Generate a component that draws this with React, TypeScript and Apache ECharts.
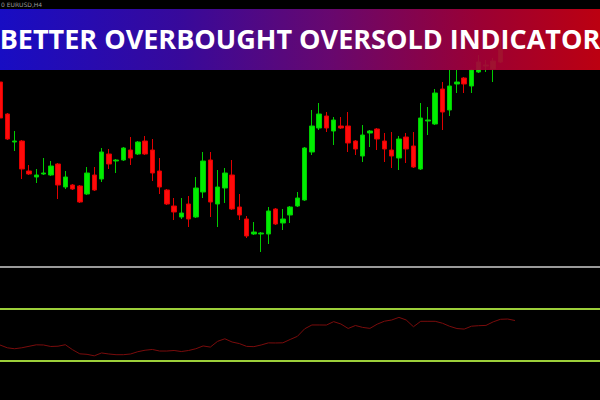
import React, { useEffect, useRef } from "react";
import * as echarts from "echarts";

// candle data: [open, close, low, high]
const candles: number[][] = [
  [1.1218, 1.1182, 1.1181, 1.1219],
  [1.1186, 1.1161, 1.116, 1.1187],
  [1.1158, 1.1159, 1.1149, 1.1169],
  [1.1159, 1.1131, 1.1121, 1.116],
  [1.1129, 1.1126, 1.1125, 1.1135],
  [1.1123, 1.1125, 1.1117, 1.1131],
  [1.1126, 1.1127, 1.1125, 1.1142],
  [1.1125, 1.1134, 1.1124, 1.1139],
  [1.1136, 1.1115, 1.1101, 1.1137],
  [1.1113, 1.1123, 1.1111, 1.1129],
  [1.1115, 1.1111, 1.111, 1.1116],
  [1.1114, 1.1098, 1.1097, 1.1115],
  [1.1106, 1.1127, 1.1105, 1.1133],
  [1.1125, 1.111, 1.1109, 1.1133],
  [1.1121, 1.1148, 1.1118, 1.1152],
  [1.1146, 1.1136, 1.1131, 1.1151],
  [1.1139, 1.114, 1.1127, 1.1141],
  [1.114, 1.1152, 1.1139, 1.1153],
  [1.115, 1.1142, 1.1135, 1.1163],
  [1.1146, 1.1158, 1.1145, 1.1159],
  [1.1159, 1.1146, 1.1145, 1.1164],
  [1.115, 1.1127, 1.1119, 1.1161],
  [1.1129, 1.1113, 1.1106, 1.1142],
  [1.111, 1.1096, 1.1095, 1.1111],
  [1.1094, 1.1088, 1.108, 1.1102],
  [1.1083, 1.1087, 1.1081, 1.1102],
  [1.1096, 1.1081, 1.1073, 1.1104],
  [1.1083, 1.1112, 1.1082, 1.1123],
  [1.1108, 1.1139, 1.1102, 1.1148],
  [1.114, 1.1098, 1.1083, 1.1148],
  [1.1096, 1.1113, 1.1073, 1.113],
  [1.1112, 1.1127, 1.1097, 1.1132],
  [1.1125, 1.1091, 1.109, 1.114],
  [1.1093, 1.1085, 1.108, 1.1106],
  [1.1081, 1.1064, 1.1062, 1.1084],
  [1.1066, 1.1068, 1.1065, 1.1078],
  [1.1066, 1.1067, 1.1048, 1.1068],
  [1.1066, 1.1089, 1.1056, 1.1093],
  [1.1091, 1.1076, 1.1075, 1.1092],
  [1.1077, 1.1081, 1.107, 1.1091],
  [1.1085, 1.1093, 1.1077, 1.1094],
  [1.1094, 1.1102, 1.1093, 1.1108],
  [1.11, 1.1152, 1.1099, 1.1153],
  [1.1148, 1.1174, 1.1145, 1.119],
  [1.1172, 1.1186, 1.117, 1.1197],
  [1.1184, 1.1172, 1.1168, 1.1188],
  [1.1169, 1.118, 1.1155, 1.1183],
  [1.1174, 1.1172, 1.1171, 1.1183],
  [1.1174, 1.1157, 1.1148, 1.1188],
  [1.1159, 1.1151, 1.1145, 1.116],
  [1.1144, 1.1165, 1.1138, 1.1175],
  [1.1167, 1.1169, 1.1153, 1.117],
  [1.1171, 1.1161, 1.115, 1.1172],
  [1.1159, 1.1151, 1.1138, 1.1167],
  [1.115, 1.1144, 1.1132, 1.1168],
  [1.1142, 1.1161, 1.113, 1.1164],
  [1.1163, 1.1151, 1.1137, 1.1167],
  [1.1154, 1.1133, 1.1132, 1.1168],
  [1.1131, 1.1182, 1.113, 1.1197],
  [1.1179, 1.118, 1.1165, 1.1193],
  [1.1176, 1.1207, 1.1175, 1.1211],
  [1.1211, 1.1188, 1.117, 1.1218],
  [1.119, 1.1214, 1.1184, 1.123],
  [1.1216, 1.1218, 1.1207, 1.123],
  [1.1222, 1.1216, 1.1207, 1.1223],
  [1.1214, 1.123, 1.1207, 1.1231],
  [1.1228, 1.1238, 1.1227, 1.1245],
  [1.1234, 1.1235, 1.1228, 1.124],
  [1.1231, 1.1239, 1.1218, 1.1242],
  [1.1238, 1.1251, 1.1237, 1.1268],
];

const oscillator: number[] = [
  38.0, 34.8, 33.7, 34.8, 36.5, 38.2, 38.0, 36.3, 36.6, 38.3,
  32.6, 27.9, 27.3, 25.6, 28.9, 27.7, 26.9, 26.9, 27.7, 30.3,
  32.0, 32.9, 31.1, 31.1, 31.7, 30.5, 31.7, 33.7, 36.9, 35.6,
  42.2, 45.1, 41.4, 39.6, 36.4, 36.1, 38.0, 40.4, 40.3, 40.5,
  44.3, 47.9, 56.5, 60.9, 60.9, 60.8, 64.7, 62.0, 56.9, 60.3,
  58.1, 57.0, 61.8, 65.2, 66.6, 69.6, 66.6, 58.9, 65.1, 65.1,
  65.1, 62.9, 59.4, 56.8, 56.2, 59.5, 60.1, 60.4, 64.5, 67.4,
  67.7, 66.0,
];

const levels: number[] = [80, 20];
const categories: string[] = oscillator.map((_, i) => String(i + 1));

const titleText = "BETTER OVERBOUGHT OVERSOLD INDICATOR";
const symbolText = "0 EURUSD,H4";

export default function App() {
  const ref = useRef<HTMLDivElement>(null);
  useEffect(() => {
    document.body.style.margin = "0";
    document.body.style.background = "#000";
    const chart = echarts.init(ref.current!, null, { renderer: "svg" });
    chart.setOption({
      animation: false,
      backgroundColor: "#000000",
      grid: [
        { left: 0, top: 0, width: 515, height: 267 },
        { left: 0, top: 290.8, width: 515, height: 87.4 },
        { left: 0, top: 290.8, width: 600, height: 87.4 },
      ],
      xAxis: [
        { type: "category", data: categories, boundaryGap: false, gridIndex: 0, show: false },
        { type: "category", data: categories, boundaryGap: false, gridIndex: 1, show: false },
        { type: "value", gridIndex: 2, min: 0, max: 1, show: false, splitLine: { show: false } },
      ],
      yAxis: [
        { type: "value", gridIndex: 0, min: 1.1033, max: 1.13, show: false, splitLine: { show: false } },
        { type: "value", gridIndex: 1, min: 0, max: 100, show: false, splitLine: { show: false } },
        { type: "value", gridIndex: 2, min: 0, max: 100, show: false, splitLine: { show: false } },
      ],
      series: [
        {
          type: "candlestick",
          xAxisIndex: 0,
          yAxisIndex: 0,
          data: candles,
          barWidth: 5,
          itemStyle: {
            color: "#00ee00",
            color0: "#ff0a0a",
            borderColor: "#00cc00",
            borderColor0: "#e00000",
            borderWidth: 1,
          },
        },
        {
          type: "line",
          xAxisIndex: 2,
          yAxisIndex: 2,
          data: [],
          markLine: {
            silent: true,
            symbol: "none",
            label: { show: false },
            lineStyle: { color: "#9ccf3a", width: 2, type: "solid" },
            data: levels.map((v) => ({ yAxis: v })),
          },
        },
        {
          type: "line",
          xAxisIndex: 1,
          yAxisIndex: 1,
          data: oscillator,
          symbol: "none",
          lineStyle: { color: "#7a0c0c", width: 1 },
        },
      ],
      graphic: [
        {
          type: "line",
          shape: { x1: 0, y1: 267, x2: 600, y2: 267 },
          style: { stroke: "#9a9a9a", lineWidth: 2 },
          z: 50,
        },
        {
          type: "rect",
          shape: { x: 0, y: 9, width: 600, height: 61 },
          style: {
            fill: new echarts.graphic.LinearGradient(0, 0, 1, 0, [
              { offset: 0, color: "#1a0ed4" },
              { offset: 0.3, color: "#3c0aa8" },
              { offset: 0.55, color: "#700878" },
              { offset: 0.8, color: "#a80038" },
              { offset: 1, color: "#cc0012" },
            ]),
            opacity: 0.92,
          },
          z: 100,
        },
        {
          type: "text",
          x: 300,
          y: 38,
          style: {
            text: titleText,
            fill: "#ffffff",
            font: "bold 27px 'Open Sans'",
            align: "center",
            verticalAlign: "middle",
          },
          z: 101,
        },
        {
          type: "text",
          x: 1,
          y: 4,
          style: {
            text: symbolText,
            fill: "#9a9a9a",
            font: "6px 'DejaVu Sans'",
            align: "left",
            verticalAlign: "middle",
          },
          z: 101,
        },
      ],
    });
    return () => chart.dispose();
  }, []);
  return <div ref={ref} style={{ width: 600, height: 400 }} />;
}
